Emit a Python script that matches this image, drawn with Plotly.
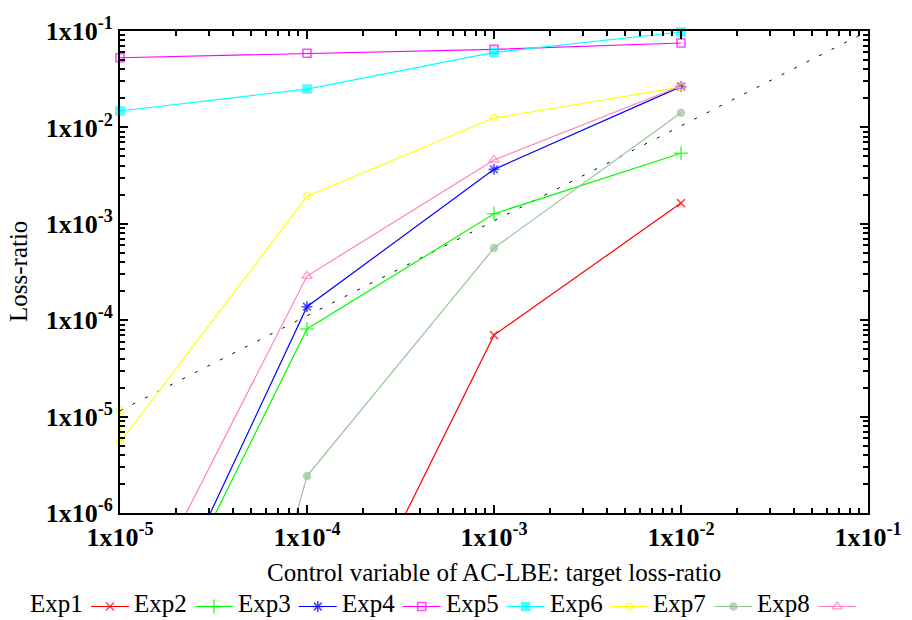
import plotly.graph_objects as go

W, H = 912, 620

# Target loss-ratio settings (control variable of AC-LBE)
targets = [1e-5, 1e-4, 1e-3, 1e-2]

# Measured loss-ratio per experiment
exp1_x = [1e-4, 1e-3, 1e-2]
exp1_y = [8.5e-9, 7.0e-5, 1.64e-3]
exp2_y = [1.0e-8, 8.1e-5, 1.27e-3, 5.4e-3]
exp3_y = [1.0e-8, 1.38e-4, 3.67e-3, 2.65e-2]
exp4_y = [5.28e-2, 5.87e-2, 6.45e-2, 7.51e-2]
exp5_y = [1.48e-2, 2.50e-2, 6.0e-2, 9.76e-2]
exp6_x = [1e-5, 1e-5, 1e-4, 1e-3, 1e-2]
exp6_y = [1.15e-5, 5.4e-6, 1.93e-3, 1.25e-2, 2.62e-2]
exp7_y = [2.6e-13, 2.42e-6, 5.61e-4, 1.42e-2]
exp8_y = [4.5e-8, 2.87e-4, 4.59e-3, 2.69e-2]

# Reference line (loss-ratio equal to target)
ref_x = [1e-5, 1e-1]
ref_y = [1.15e-5, 1e-1]

names = ["Exp1", "Exp2", "Exp3", "Exp4", "Exp5", "Exp6", "Exp7", "Exp8"]
xs = [exp1_x, targets, targets, targets, targets, exp6_x, targets, targets]
ys = [exp1_y, exp2_y, exp3_y, exp4_y, exp5_y, exp6_y, exp7_y, exp8_y]
colors = ["#ff0000", "#00ff00", "#0000ff", "#ff00ff", "#00ffff",
          "#ffff00", "#96c596", "#ff80c0"]
symbols = ["x-thin-open", "cross-thin-open", "asterisk-open", "square-open",
           "square", "circle-open", "circle", "triangle-up-open"]
sizes = [8, 10, 9, 8, 8, 7, 7, 9]

x_ticks = [1e-5, 1e-4, 1e-3, 1e-2, 1e-1]
x_ticktext = ["1x10<sup>-5</sup>", "1x10<sup>-4</sup>", "1x10<sup>-3</sup>",
              "1x10<sup>-2</sup>", "1x10<sup>-1</sup>"]
y_ticks = [1e-6, 1e-5, 1e-4, 1e-3, 1e-2, 1e-1]
y_ticktext = ["1x10<sup>-6</sup>", "1x10<sup>-5</sup>", "1x10<sup>-4</sup>",
              "1x10<sup>-3</sup>", "1x10<sup>-2</sup>", "1x10<sup>-1</sup>"]

Y_MIN, Y_MAX = 1e-6, 1e-1
FONT = "Liberation Serif"

fig = go.Figure()

fig.add_trace(go.Scatter(
    x=ref_x, y=ref_y, mode="lines",
    line=dict(color="black", width=1, dash="3px,11px"),
    showlegend=False, hoverinfo="skip"))

for name, x, y, c, s, sz in zip(names, xs, ys, colors, symbols, sizes):
    msize = [sz if Y_MIN <= v <= Y_MAX * 1.001 else 0 for v in y]
    fig.add_trace(go.Scatter(
        x=x, y=y, name=name, mode="lines+markers",
        line=dict(color=c, width=1.2),
        marker=dict(symbol=s, size=msize, color=c,
                    line=dict(color=c, width=1.6)),
        cliponaxis=False, showlegend=False))

# Key row below the plot: label followed by a line sample with its marker
KEY_Y = 606.5
for i, (name, c, s, sz) in enumerate(zip(names, colors, symbols, sizes)):
    tx = 28 + i * 103.9
    sx0 = tx + 63
    sx1 = sx0 + 38
    fig.add_trace(go.Scatter(
        x=[sx0, (sx0 + sx1) / 2, sx1], y=[KEY_Y] * 3,
        xaxis="x2", yaxis="y2", mode="lines+markers",
        line=dict(color=c, width=1.2),
        marker=dict(symbol=s, size=[0, sz, 0], color=c,
                    line=dict(color=c, width=1.6)),
        showlegend=False, hoverinfo="skip", cliponaxis=False))
    fig.add_annotation(x=tx, y=KEY_Y - 3, xref="x2", yref="y2", text=name,
                       showarrow=False, xanchor="left", yanchor="middle",
                       font=dict(family=FONT, size=25, color="black"))

minor_x = [m * 10 ** e for e in range(-5, -1) for m in range(2, 10)]
minor_y = [m * 10 ** e for e in range(-6, -1) for m in range(2, 10)]

axis_common = dict(
    type="log", showgrid=False, zeroline=False, automargin=False,
    showline=True, linecolor="black", linewidth=2, mirror="allticks",
    ticks="inside", ticklen=8, tickwidth=2, tickcolor="black",
    tickfont=dict(family=FONT, size=26, color="black", weight="bold"),
    tickmode="array",
)

fig.update_layout(
    width=W, height=H,
    margin=dict(l=0, r=0, t=0, b=0, autoexpand=False),
    paper_bgcolor="white", plot_bgcolor="white",
    font=dict(family=FONT, color="black"),
    showlegend=False,
    xaxis=dict(axis_common, range=[-5, -1],
               domain=[120 / W, 868 / W],
               tickvals=x_ticks, ticktext=x_ticktext,
               minor=dict(tickvals=minor_x, ticks="inside", ticklen=5,
                          tickwidth=1.5, tickcolor="black"),
               anchor="y"),
    yaxis=dict(axis_common, range=[-6, -1],
               domain=[1 - 513 / H, 1 - 31 / H],
               tickvals=y_ticks, ticktext=y_ticktext,
               minor=dict(tickvals=minor_y, ticks="inside", ticklen=5,
                          tickwidth=1.5, tickcolor="black"),
               anchor="x"),
    xaxis2=dict(domain=[0, 1], range=[0, W], visible=False,
                anchor="y2", fixedrange=True, automargin=False),
    yaxis2=dict(domain=[0, 40 / H], range=[H, H - 40], visible=False,
                anchor="x2", fixedrange=True, automargin=False),
)

# Axis titles
fig.add_annotation(x=494 / W, y=1 - 572 / H, xref="paper", yref="paper",
                   text="Control variable of AC-LBE: target loss-ratio",
                   showarrow=False, xanchor="center", yanchor="middle",
                   font=dict(family=FONT, size=25, color="black"))
fig.add_annotation(x=18 / W, y=1 - 272 / H, xref="paper", yref="paper",
                   text="Loss-ratio", textangle=-90,
                   showarrow=False, xanchor="center", yanchor="middle",
                   font=dict(family=FONT, size=25, color="black"))

fig.write_html("out.html")
